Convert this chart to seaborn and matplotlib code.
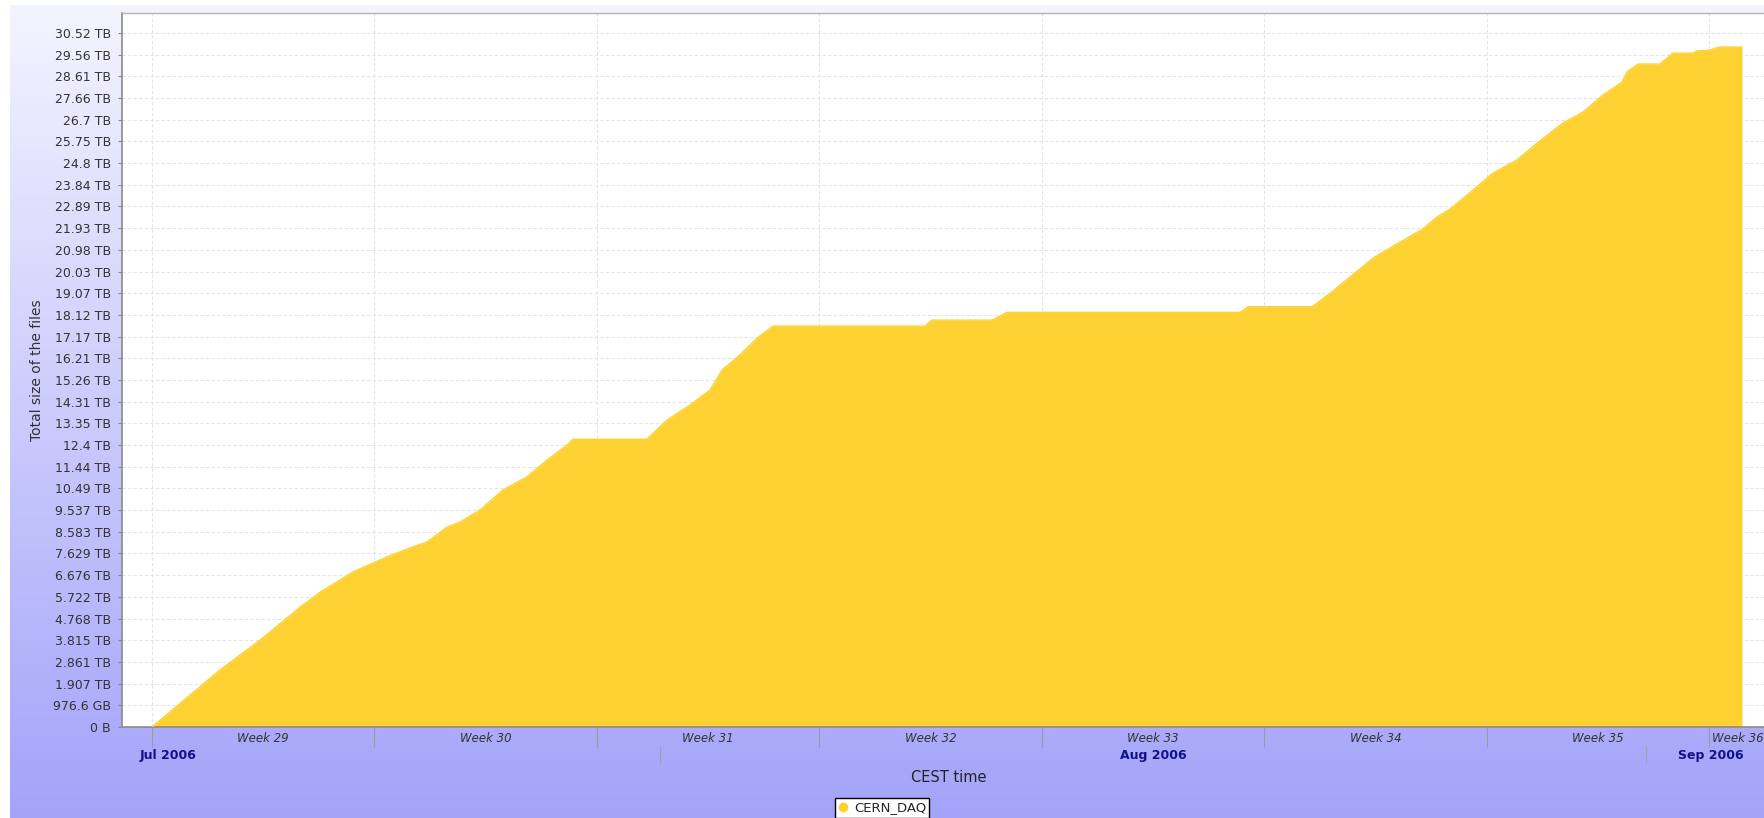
import matplotlib
matplotlib.use("Agg")
import matplotlib.dates as mdates
import matplotlib.pyplot as plt
import matplotlib.transforms as mtransforms
from matplotlib.lines import Line2D
import numpy as np
import pandas as pd
import seaborn as sns

START = pd.Timestamp("2006-07-16")

# days elapsed since START, cumulative size in TB (binary, as on the axis)
elapsed_days = [0, 2.14, 3.40, 4.66, 5.29, 6.33, 7.39, 8.21, 8.65, 9.28, 9.69,
                10.32, 11.04, 11.80, 12.43, 13.06, 13.25, 15.57, 16.20, 16.93,
                17.56, 17.94, 18.50, 19.04, 19.54, 24.32, 24.54, 26.43, 26.90,
                34.24, 34.49, 36.50, 37.07, 37.70, 38.42, 39.27, 39.99, 40.43,
                40.84, 41.38, 42.20, 42.95, 43.58, 44.40, 45.03, 45.66, 46.26,
                46.41, 46.76, 47.45, 47.86, 48.49, 48.60, 49.00, 49.30, 50.03]
total_tb = [0, 2.51, 3.82, 5.27, 5.93, 6.82, 7.48, 7.92, 8.13, 8.79, 9.01,
            9.54, 10.42, 11.00, 11.74, 12.40, 12.65, 12.65, 13.49, 14.16,
            14.82, 15.70, 16.36, 17.10, 17.63, 17.63, 17.89, 17.89, 18.23,
            18.23, 18.48, 18.48, 19.07, 19.79, 20.62, 21.32, 21.90, 22.42,
            22.77, 23.39, 24.36, 24.93, 25.67, 26.56, 27.04, 27.79, 28.36,
            28.80, 29.15, 29.15, 29.63, 29.63, 29.73, 29.75, 29.90, 29.90]

week_labels = ["Week 29", "Week 30", "Week 31", "Week 32",
               "Week 33", "Week 34", "Week 35", "Week 36"]
month_labels = ["Jul 2006", "Aug 2006", "Sep 2006"]
month_starts = ["2006-08-01", "2006-09-01"]
ytick_labels = ["0 B", "976.6 GB", "1.907 TB", "2.861 TB", "3.815 TB", "4.768 TB",
                "5.722 TB", "6.676 TB", "7.629 TB", "8.583 TB", "9.537 TB",
                "10.49 TB", "11.44 TB", "12.4 TB", "13.35 TB", "14.31 TB",
                "15.26 TB", "16.21 TB", "17.17 TB", "18.12 TB", "19.07 TB",
                "20.03 TB", "20.98 TB", "21.93 TB", "22.89 TB", "23.84 TB",
                "24.8 TB", "25.75 TB", "26.7 TB", "27.66 TB", "28.61 TB",
                "29.56 TB", "30.52 TB"]
series_name = "CERN_DAQ"

W, H = 1764, 818
YELLOW = "#FDD131"
NAVY = "#10108C"

sns.set_theme(style="white")
plt.rcParams["font.family"] = ["DejaVu Sans"]

fig = plt.figure(figsize=(W / 100, H / 100), dpi=100)
fig.patch.set_facecolor("white")

# lavender gradient behind everything
bg = fig.add_axes([10 / W, 0, 1 - 10 / W, 1 - 5 / H])
top = np.array([244, 244, 255]) / 255
bot = np.array([163, 163, 250]) / 255
t = np.linspace(0, 1, 256)[:, None, None]
bg.imshow(top + (bot - top) * t, aspect="auto", extent=[0, 1, 0, 1])
bg.axis("off")

ax = fig.add_axes([122 / W, 1 - 727 / H, (1775 - 122) / W, (727 - 13) / H])
ax.set_facecolor("white")

df = pd.DataFrame({
    "time": START + pd.to_timedelta(elapsed_days, unit="D"),
    "size": total_tb,
})
xnum = mdates.date2num(df["time"])
ax.fill_between(xnum, df["size"], color=YELLOW, lw=0, zorder=2)
sns.lineplot(data=df, x=xnum, y="size", color=YELLOW, lw=1, ax=ax, zorder=3)

x0 = mdates.date2num(START)
ax.set_xlim(x0 - 0.944, x0 + 51.07)
# one tick = 976.6 GB = 1e6 MiB, expressed in TB
tb_per_tick = 1e6 / 2 ** 20
yticks = np.arange(len(ytick_labels)) * tb_per_tick
ax.set_ylim(0, 32.92 * tb_per_tick)
ax.set_yticks(yticks)
ax.set_yticklabels(ytick_labels, fontsize=9, color="#333333")
ax.set_xlabel("")
ax.set_ylabel("")

week_starts = mdates.date2num(pd.date_range(START, periods=len(week_labels), freq="7D"))
ax.set_xticks(week_starts)
ax.set_xticklabels([])
ax.tick_params(axis="x", length=14.4, width=0.8, color="#9a9a9a", direction="out", bottom=True)
ax.tick_params(axis="y", length=3, width=0.8, color="#888888", direction="out", left=True, pad=5)

ax.set_axisbelow(True)
ax.grid(True, color="#e4e4e4", ls=(0, (3, 2)), lw=0.8)
for side in ["left", "bottom"]:
    ax.spines[side].set_color("#8a8a8a")
    ax.spines[side].set_linewidth(1.2)
for side in ["top", "right"]:
    ax.spines[side].set_color("#b4b4b8")
    ax.spines[side].set_linewidth(1)

tr = mtransforms.blended_transform_factory(ax.transData, fig.transFigure)
fy = lambda ypx: 1 - ypx / H

# week labels
for i, lab in enumerate(week_labels):
    if i < len(week_labels) - 1:
        ax.text(week_starts[i] + 3.5, fy(738), lab, transform=tr, ha="center",
                va="center", fontsize=8.5, style="italic", color="#333333")
    else:
        ax.text(week_starts[i] + 0.08, fy(738), lab, transform=tr, ha="left",
                va="center", fontsize=8.5, style="italic", color="#333333")

# month ticks and labels
mnums = mdates.date2num(pd.to_datetime(month_starts))
for m in mnums:
    ax.plot([m, m], [fy(747), fy(763)], transform=tr, color="#a0a0b0", lw=0.8,
            clip_on=False)
xl = ax.get_xlim()
month_pos = [x0 + 0.5, (mnums[0] + mnums[1]) / 2, (mnums[1] + xl[1]) / 2]
for pos, lab in zip(month_pos, month_labels):
    ax.text(pos, fy(755), lab, transform=tr, ha="center", va="center",
            fontsize=9, fontweight="bold", color=NAVY)

fig.text((122 + 1775) / 2 / W, fy(777), "CEST time", ha="center", va="center",
         fontsize=10.5, color="#222222")
fig.text(37 / W, fy(370), "Total size of the files", rotation=90, ha="center",
         va="center", fontsize=10, color="#333333")

handle = Line2D([], [], marker="o", ls="", color=YELLOW, markersize=6)
leg = fig.legend([handle], [series_name], loc="upper center",
                 bbox_to_anchor=(0.5, fy(798)), frameon=True, fancybox=False,
                 fontsize=9.5, handlelength=0.8, handletextpad=0.4,
                 borderpad=0.25, borderaxespad=0)
leg.get_frame().set_edgecolor("black")
leg.get_frame().set_linewidth(1)
leg.get_frame().set_facecolor("white")
leg.get_frame().set_alpha(1)

fig.savefig("out.png", dpi=100)
